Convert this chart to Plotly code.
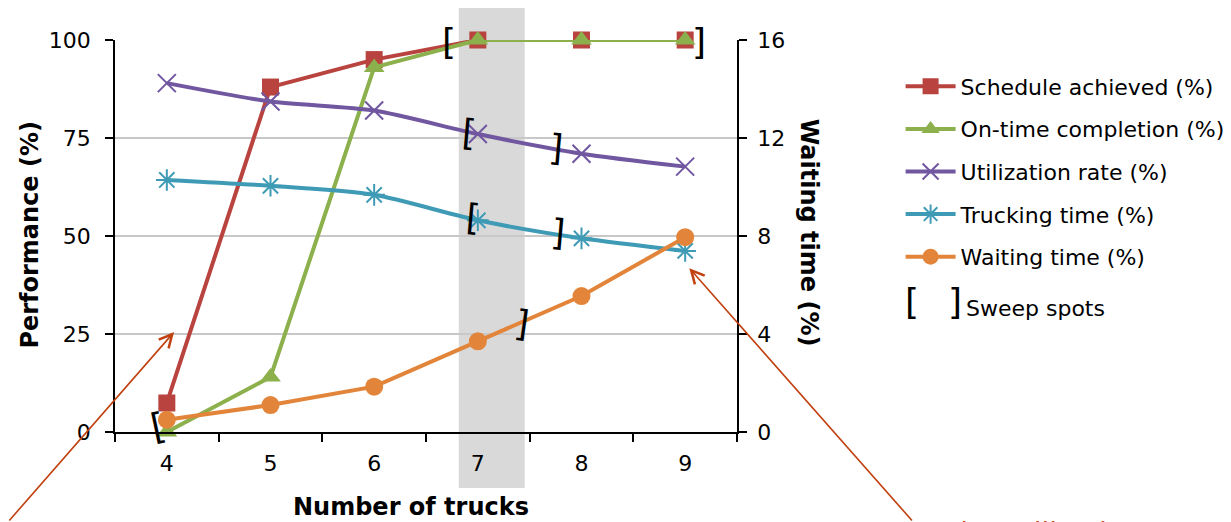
import plotly.graph_objects as go

# ---------------- data ----------------
trucks = ["4", "5", "6", "7", "8", "9"]
schedule_achieved = [7.4, 88, 95, 100, 100, 100]
on_time_completion = [0, 14, 93, 100, 100, 100]
utilization_rate = [89, 84.3, 82, 76, 71, 67.7]
trucking_time = [64.3, 62.8, 60.5, 54, 49.4, 46.2]
waiting_time = [0.5, 1.1, 1.85, 3.7, 5.55, 7.95]

left_ticks = [0, 25, 50, 75, 100]
right_ticks = [0, 4, 8, 12, 16]

FONT = "DejaVu Sans"
RED = "#B8433F"
GREEN = "#8CB04B"
PURPLE = "#7156A0"
TEAL = "#3F9BB5"
ORANGE = "#E2853A"
ARROW = "#C0410F"

fig = go.Figure()

def add(name, y, color, symbol, msize, shape="linear", yaxis="y", open_marker=False, group=""):
    marker = dict(symbol=symbol, size=msize, color=color)
    if open_marker:
        marker["line"] = dict(color=color, width=2)
    fig.add_trace(go.Scatter(
        x=trucks, y=y, name=name, mode="lines+markers", yaxis=yaxis,
        line=dict(color=color, width=4, shape=shape, smoothing=0.7),
        marker=marker, legendgroup=group, cliponaxis=False))

add("Schedule achieved (%)", schedule_achieved, RED, "square", 17, group="a")
add("On-time completion (%)", on_time_completion, GREEN, "triangle-up", 18, group="b")
add("Utilization rate (%)", utilization_rate, PURPLE, "x-thin-open", 18, shape="spline", open_marker=True, group="c")
add("Trucking time (%)", trucking_time, TEAL, "asterisk-open", 18, shape="spline", open_marker=True, group="d")
add("Waiting time (%)", waiting_time, ORANGE, "circle", 18, yaxis="y2", group="e")

# shaded band around 7 trucks
fig.add_shape(type="rect", xref="x", yref="paper", x0=2.816, x1=3.452, y0=-0.143, y1=1.089,
              fillcolor="#D9D9D9", line=dict(width=0), layer="below")

BR_FONT = dict(family="DejaVu Sans", size=36, color="black")
ann = []
# sweep-spot brackets (text annotations)
brackets = [
    (-0.09, 1.5, "[", -12),
    (2.72, 99.7, "[", 0),
    (5.13, 99.7, "]", 0),
    (2.91, 76.3, "[", 5),
    (3.75, 72.7, "]", 5),
    (2.95, 54.8, "[", 5),
    (3.77, 51.0, "]", 5),
    (3.43, 27.8, "]", 8),
]
for bx, by, ch, ang in brackets:
    ann.append(dict(x=bx, y=by, xref="x", yref="y", text=ch, showarrow=False,
                    textangle=ang, font=BR_FONT, xanchor="center", yanchor="middle"))

# legend-like sweep spots entry
ann.append(dict(x=1.281, y=0.332, xref="paper", yref="paper", text="[", showarrow=False,
                font=BR_FONT, xanchor="center", yanchor="middle"))
ann.append(dict(x=1.350, y=0.332, xref="paper", yref="paper", text="]", showarrow=False,
                font=BR_FONT, xanchor="center", yanchor="middle"))
ann.append(dict(x=1.365, y=0.316, xref="paper", yref="paper", text="Sweep spots", showarrow=False,
                xanchor="left", yanchor="middle", font=dict(family=FONT, size=22, color="black")))

# axis titles
ann.append(dict(x=0.476, y=-0.191, xref="paper", yref="paper", text="<b>Number of trucks</b>",
                showarrow=False, xanchor="center", yanchor="middle",
                font=dict(family=FONT, size=24, color="black")))
ann.append(dict(x=-0.137, y=0.503, xref="paper", yref="paper", text="<b>Performance (%)</b>",
                showarrow=False, textangle=-90, xanchor="center", yanchor="middle",
                font=dict(family=FONT, size=24, color="black")))
ann.append(dict(x=1.116, y=0.508, xref="paper", yref="paper", text="<b>Waiting time (%)</b>",
                showarrow=False, textangle=90, xanchor="center", yanchor="middle",
                font=dict(family=FONT, size=24, color="black")))

# arrows
ann.append(dict(x=0.07, y=25.5, xref="x", yref="y", ax=-169, ay=208, text="", showarrow=True,
                arrowhead=5, arrowsize=1.6, arrowwidth=1.6, arrowcolor=ARROW))
ann.append(dict(x=5.04, y=41.8, xref="x", yref="y", ax=224, ay=272, text="", showarrow=True,
                arrowhead=5, arrowsize=1.6, arrowwidth=1.6, arrowcolor=ARROW))
ann.append(dict(x=1.278, y=-0.212, xref="paper", yref="paper", text="Under-utilized",
                showarrow=False, xanchor="left", yanchor="top",
                font=dict(family=FONT, size=28, color="#D0471A")))

# the page body has an 8px margin, so the figure is 8px smaller and margins compensate
fig.update_layout(
    width=1223, height=514,
    margin=dict(l=107, r=494, t=32, b=90, autoexpand=False),
    paper_bgcolor="white", plot_bgcolor="rgba(0,0,0,0)",
    font=dict(family=FONT, size=22, color="black"),
    showlegend=True,
    legend=dict(x=1.263, y=0.935, xanchor="left", yanchor="top",
                font=dict(family=FONT, size=22, color="black"),
                traceorder="grouped", tracegroupgap=11, itemwidth=50,
                bgcolor="rgba(0,0,0,0)"),
    annotations=ann,
    xaxis=dict(type="category", range=[-0.5, 5.5], tickson="boundaries",
               ticks="outside", ticklen=8, tickwidth=1.5, tickcolor="black",
               showline=True, linecolor="black", linewidth=1.5, automargin=False,
               showgrid=False, tickfont=dict(size=22), ticklabelstandoff=11),
    yaxis=dict(range=[0, 100], tickvals=left_ticks, ticks="outside", ticklen=8,
               tickwidth=1.5, tickcolor="black", showline=True, linecolor="black",
               linewidth=1.5, showgrid=True, gridcolor="#C8C8C8", gridwidth=1.5,
               zeroline=False, tickfont=dict(size=22), ticklabelstandoff=10, automargin=False),
    yaxis2=dict(range=[0, 16], tickvals=right_ticks, overlaying="y", side="right",
                ticks="outside", ticklen=8, tickwidth=1.5, tickcolor="black",
                showline=True, linecolor="black", linewidth=1.5, showgrid=False,
                zeroline=False, tickfont=dict(size=22), ticklabelstandoff=6, automargin=False),
)

fig.write_html("out.html")
